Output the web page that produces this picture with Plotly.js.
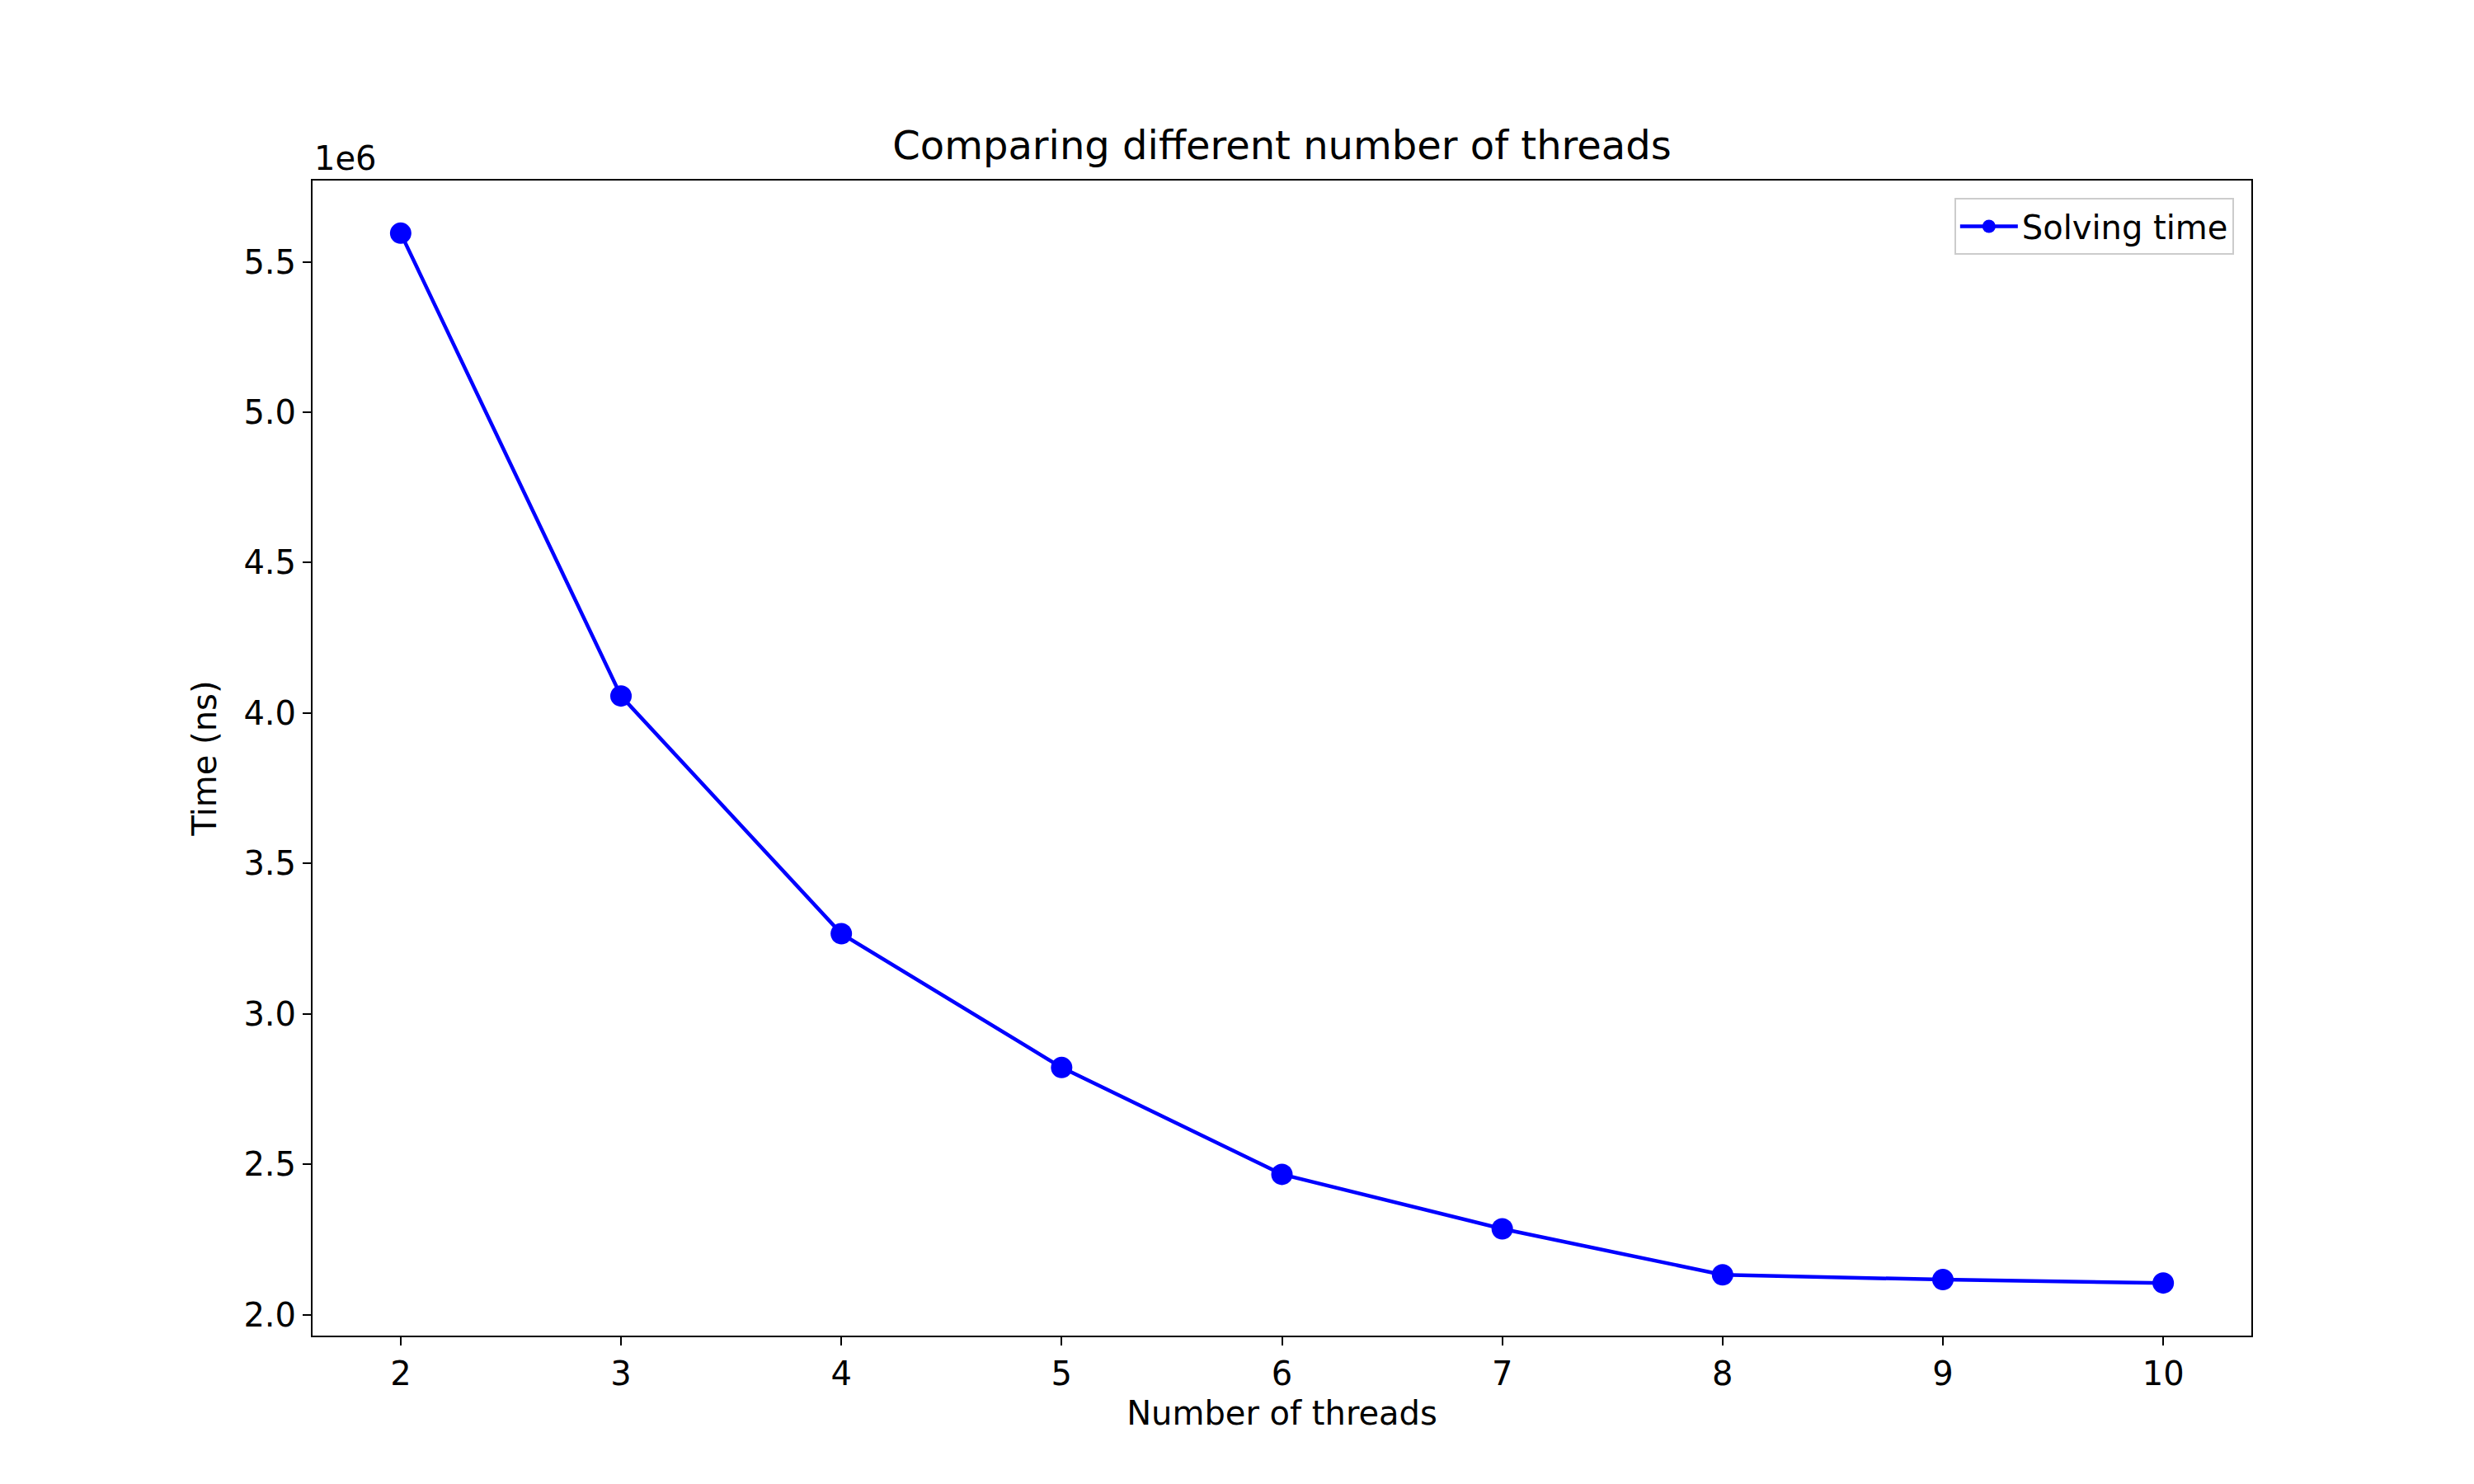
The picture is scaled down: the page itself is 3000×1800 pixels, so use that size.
<!DOCTYPE html>
<html>
<head>
<meta charset="utf-8">
<script src="https://cdn.plot.ly/plotly-3.0.1.min.js"></script>
<style>body{margin:0;background:#fff}</style>
</head>
<body>
<div id="chart" style="width:3000px;height:1800px"></div>
<script>
const threads = [2, 3, 4, 5, 6, 7, 8, 9, 10];
const solvingTime = [5595000, 4057000, 3267000, 2822000, 2467000, 2286000, 2133000, 2117000, 2106000];
const yTickVals = [2.0e6, 2.5e6, 3.0e6, 3.5e6, 4.0e6, 4.5e6, 5.0e6, 5.5e6];
const yTickText = ['2.0', '2.5', '3.0', '3.5', '4.0', '4.5', '5.0', '5.5'];

const font = { family: 'DejaVu Sans', size: 40, color: '#000' };
const axis = {
  showgrid: false, zeroline: false, showline: true, mirror: true,
  linecolor: '#000', linewidth: 2, ticks: 'outside', ticklen: 10, tickwidth: 2,
  tickcolor: '#000', tickfont: font
};

Plotly.newPlot('chart', [{
  x: threads,
  y: solvingTime,
  name: 'Solving time',
  type: 'scatter',
  mode: 'lines+markers',
  line: { color: '#0000ff', width: 4.5 },
  marker: { color: '#0000ff', size: 26 }
}], {
  width: 3000, height: 1800,
  margin: { l: 379, r: 270, t: 219, b: 180 },
  paper_bgcolor: '#fff', plot_bgcolor: '#fff',
  font: font,
  title: { text: 'Comparing different number of threads', font: { family: 'DejaVu Sans', size: 48, color: '#000' }, xref: 'paper', x: 0.5, xanchor: 'center', y: 0.902, yanchor: 'middle' },
  xaxis: Object.assign({}, axis, {
    range: [1.6, 10.4], tickvals: threads,
    title: { text: 'Number of threads', font: font, standoff: 12 }
  }),
  yaxis: Object.assign({}, axis, {
    range: [1.931e6, 5.77e6], tickvals: yTickVals, ticktext: yTickText,
    title: { text: 'Time (ns)', font: font, standoff: 20 }
  }),
  showlegend: true,
  legend: {
    x: 0.991, xanchor: 'right', y: 0.985, yanchor: 'top',
    bordercolor: '#cccccc', borderwidth: 2, bgcolor: 'rgba(255,255,255,0.8)',
    itemwidth: 70,
    font: { family: 'DejaVu Sans', size: 40, color: '#000' }
  },
  annotations: [{
    text: '1e6', xref: 'paper', yref: 'paper', x: 0, y: 1, xanchor: 'left', yanchor: 'bottom',
    yshift: 2, showarrow: false, font: font
  }]
}, { displayModeBar: false });
</script>
</body>
</html>
